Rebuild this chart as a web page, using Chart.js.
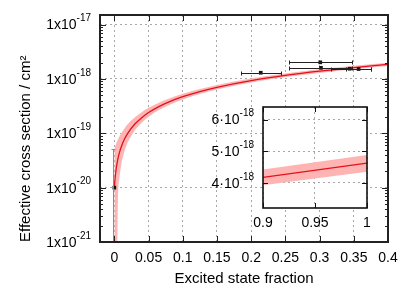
<!DOCTYPE html>
<html><head><meta charset="utf-8">
<script src="https://cdn.jsdelivr.net/npm/chart.js@4.4.1/dist/chart.umd.min.js"></script>
<style>
html,body{margin:0;padding:0;background:#fff;}
#wrap{position:relative;width:415px;height:291px;}
canvas{position:absolute;left:0;top:0;}
</style></head><body>
<div id="wrap"><canvas id="main" width="415" height="291"></canvas><canvas id="inset" width="415" height="291"></canvas></div>
<script>
// ---- data ----
const curveX     = [0, 0.001, 0.002, 0.003, 0.005, 0.0075, 0.01, 0.015, 0.02, 0.03, 0.04, 0.05, 0.065, 0.08, 0.1, 0.125, 0.15, 0.2, 0.25, 0.3, 0.35, 0.4];
const curveMid   = [1.0e-20, 1.46e-20, 1.92e-20, 2.38e-20, 3.31e-20, 4.46e-20, 5.61e-20, 7.92e-20, 1.02e-19, 1.48e-19, 1.94e-19, 2.41e-19, 3.1e-19, 3.79e-19, 4.71e-19, 5.86e-19, 7.02e-19, 9.32e-19, 1.16e-18, 1.39e-18, 1.62e-18, 1.85e-18];
const curveUpper = [5.2e-20, 5.68e-20, 6.17e-20, 6.65e-20, 7.62e-20, 8.82e-20, 1.0e-19, 1.24e-19, 1.49e-19, 1.97e-19, 2.45e-19, 2.94e-19, 3.66e-19, 4.38e-19, 5.35e-19, 6.56e-19, 7.77e-19, 1.02e-18, 1.26e-18, 1.5e-18, 1.74e-18, 1.98e-18];
const curveLower = [1e-23, 1e-23, 1e-23, 1e-23, 4.4e-21, 1.53e-20, 2.62e-20, 4.81e-20, 6.99e-20, 1.14e-19, 1.57e-19, 2.01e-19, 2.67e-19, 3.32e-19, 4.2e-19, 5.29e-19, 6.38e-19, 8.57e-19, 1.08e-18, 1.29e-18, 1.51e-18, 1.73e-18];

const pointX     = [0, 0.214, 0.301, 0.302, 0.344, 0.357];
const pointY     = [1e-20, 1.3e-18, 2.02e-18, 1.6e-18, 1.54e-18, 1.52e-18];
const pointXLow  = [null, 0.185, 0.255, 0.255, 0.316, 0.338];
const pointXHigh = [null, 0.243, 0.348, 0.348, 0.375, 0.375];
const pointYLow  = [1e-23, null, null, null, null, null];
const pointYHigh = [5.2e-20, null, null, null, null, null];

const xTickValues = [0, 0.05, 0.1, 0.15, 0.2, 0.25, 0.3, 0.35, 0.4];
const xTickLabels = ['0', '0.05', '0.1', '0.15', '0.2', '0.25', '0.3', '0.35', '0.4'];
const yTickValues = [1e-21, 1e-20, 1e-19, 1e-18, 1e-17];
const yTickBase   = ['1x10', '1x10', '1x10', '1x10', '1x10'];
const yTickExp    = ['-21', '-20', '-19', '-18', '-17'];

const insetX     = [0.9, 1.0];
const insetMid   = [4.17e-18, 4.62e-18];
const insetUpper = [4.42e-18, 4.88e-18];
const insetLower = [3.92e-18, 4.35e-18];
const insetXTickValues = [0.9, 0.95, 1];
const insetXTickLabels = ['0.9', '0.95', '1'];
const insetYTickValues = [4e-18, 5e-18, 6e-18];
const insetYTickBase   = ['4·10', '5·10', '6·10'];
const insetYTickExp    = ['-18', '-18', '-18'];

// ---- styles ----
const errColors = ['#8c8c8c', '#222', '#222', '#222', '#222', '#222'];
const GRID = '#a8a8a8';
const RED = '#e3101a';
const PINK = '#ffb4b4';
const FONT = "'Liberation Sans', Arial, Helvetica, sans-serif";

Chart.defaults.font.family = FONT;
Chart.defaults.font.size = 14;
Chart.defaults.color = '#000';

function toXY(xs, ys) { return xs.map((v, i) => ({x: v, y: ys[i]})); }
function minorsOf(decades, min, max) {
  const out = [];
  decades.concat([decades[decades.length - 1] * 10]).forEach(d => {
    for (let m = 2; m <= 9; m++) { const v = d * m; if (v > min && v < max) out.push(v); }
  });
  return out;
}

const framePlugin = {
  id: 'frameTicks',
  beforeDraw(chart, args, o) {
    if (!o.fill) return;
    const a = chart.chartArea, ctx = chart.ctx;
    ctx.save(); ctx.fillStyle = '#fff';
    ctx.fillRect(a.left, a.top, a.right - a.left, a.bottom - a.top);
    ctx.restore();
  },
  afterDraw(chart, args, o) {
    const {ctx, chartArea: a, scales} = chart;
    ctx.save();
    ctx.strokeStyle = o.color; ctx.lineWidth = 1;
    ctx.beginPath();
    (o.xMajor || []).forEach(v => {
      const p = Math.round(scales.x.getPixelForValue(v)) + 0.5;
      ctx.moveTo(p, a.bottom); ctx.lineTo(p, a.bottom - o.major);
      ctx.moveTo(p, a.top); ctx.lineTo(p, a.top + o.major);
    });
    (o.yMajor || []).forEach(v => {
      const p = Math.round(scales.y.getPixelForValue(v)) + 0.5;
      ctx.moveTo(a.left, p); ctx.lineTo(a.left + o.major, p);
      ctx.moveTo(a.right, p); ctx.lineTo(a.right - o.major, p);
    });
    (o.yMinor || []).forEach(v => {
      const p = Math.round(scales.y.getPixelForValue(v)) + 0.5;
      ctx.moveTo(a.left, p); ctx.lineTo(a.left + o.minor, p);
      ctx.moveTo(a.right, p); ctx.lineTo(a.right - o.minor, p);
    });
    ctx.stroke();
    ctx.lineWidth = o.width;
    ctx.strokeRect(a.left, a.top, a.right - a.left, a.bottom - a.top);
    // y tick labels with real superscript exponents
    if (o.yLabelValues) {
      ctx.fillStyle = '#000'; ctx.textBaseline = 'middle'; ctx.textAlign = 'right';
      o.yLabelValues.forEach((v, i) => {
        const p = scales.y.getPixelForValue(v);
        const xr = a.left - o.labelGap;
        ctx.font = '10px ' + FONT;
        const ew = ctx.measureText(o.yLabelExp[i]).width;
        ctx.fillText(o.yLabelExp[i], xr, p - 6);
        ctx.font = '14px ' + FONT;
        ctx.fillText(o.yLabelBase[i], xr - ew, p + 1);
      });
    }
    ctx.restore();
  }
};

const errorBarPlugin = {
  id: 'errorBars',
  afterDatasetsDraw(chart, args, o) {
    if (!o.x) return;
    const {ctx, chartArea: a, scales: {x, y}} = chart;
    ctx.save();
    ctx.beginPath(); ctx.rect(a.left, a.top, a.right - a.left, a.bottom - a.top); ctx.clip();
    ctx.lineWidth = 1;
    o.x.forEach((xv, i) => {
      const px = x.getPixelForValue(xv), py = Math.round(y.getPixelForValue(o.y[i])) + 0.5;
      ctx.strokeStyle = o.colors[i];
      ctx.beginPath();
      if (o.xLow[i] != null) {
        const l = Math.round(x.getPixelForValue(o.xLow[i])) + 0.5, h = Math.round(x.getPixelForValue(o.xHigh[i])) + 0.5;
        ctx.moveTo(l, py); ctx.lineTo(h, py);
        ctx.moveTo(l, py - o.cap); ctx.lineTo(l, py + o.cap);
        ctx.moveTo(h, py - o.cap); ctx.lineTo(h, py + o.cap);
      }
      if (o.yLow[i] != null) {
        const pxr = Math.round(px) - 0.5;
        const lo = y.getPixelForValue(o.yLow[i]), hi = Math.round(y.getPixelForValue(o.yHigh[i])) + 0.5;
        ctx.moveTo(pxr, lo); ctx.lineTo(pxr, hi);
        ctx.moveTo(pxr - o.cap, hi); ctx.lineTo(pxr + o.cap, hi);
      }
      ctx.stroke();
    });
    ctx.restore();
  }
};

const common = { responsive: false, animation: false, devicePixelRatio: 1 };

new Chart(document.getElementById('main'), {
  type: 'line',
  data: { datasets: [
    { label: 'points', data: toXY(pointX, pointY), showLine: false, pointStyle: 'rect', pointRadius: 2.6,
      pointBackgroundColor: '#111', pointBorderColor: '#111', pointBorderWidth: 0 },
    { label: 'fit', data: toXY(curveX, curveMid), borderColor: RED, borderWidth: 1.3, pointRadius: 0, fill: false, cubicInterpolationMode: 'monotone' },
    { label: 'upper', data: toXY(curveX, curveUpper), borderWidth: 0, borderColor: PINK, pointRadius: 0, fill: '+1', backgroundColor: PINK, cubicInterpolationMode: 'monotone' },
    { label: 'lower', data: toXY(curveX, curveLower), borderWidth: 0, borderColor: PINK, pointRadius: 0, fill: false, cubicInterpolationMode: 'monotone' }
  ]},
  options: Object.assign({}, common, {
    layout: { padding: { left: 0, top: 15, right: 27, bottom: 0 } },
    plugins: {
      legend: { display: false }, tooltip: { enabled: false },
      frameTicks: { color: '#222', width: 2, major: 6, minor: 3, xMajor: xTickValues, yMajor: yTickValues,
                    yMinor: minorsOf(yTickValues, 1e-21, 1.5e-17),
                    yLabelValues: yTickValues, yLabelBase: yTickBase, yLabelExp: yTickExp, labelGap: 9 },
      errorBars: { x: pointX, y: pointY, xLow: pointXLow, xHigh: pointXHigh, yLow: pointYLow, yHigh: pointYHigh, colors: errColors, cap: 2 }
    },
    scales: {
      x: { type: 'linear', min: -0.021, max: 0.4,
        afterBuildTicks: s => { s.ticks = xTickValues.map(v => ({value: v})); },
        afterFit: s => { s.height = 49; },
        ticks: { callback: (v, i) => xTickLabels[i], autoSkip: false, maxRotation: 0, padding: 8 },
        grid: { color: GRID, drawTicks: false, lineWidth: 1 },
        border: { display: false, dash: [2, 3] },
        title: { display: true, text: 'Excited state fraction', font: { size: 15 }, padding: { top: 0, bottom: 3 } } },
      y: { type: 'logarithmic', min: 1e-21, max: 1.5e-17,
        afterBuildTicks: s => { s.ticks = yTickValues.map(v => ({value: v})); },
        afterFit: s => { s.width = 100; },
        ticks: { display: false },
        grid: { color: GRID, drawTicks: false, lineWidth: 1 },
        border: { display: false, dash: [2, 3] },
        title: { display: true, text: 'Effective cross section / cm²', align: 'start', font: { size: 15 }, padding: { top: 17, bottom: 0 } } }
    }
  }),
  plugins: [framePlugin, errorBarPlugin]
});

new Chart(document.getElementById('inset'), {
  type: 'line',
  data: { datasets: [
    { label: 'fit', data: toXY(insetX, insetMid), borderColor: RED, borderWidth: 1.2, pointRadius: 0, fill: false },
    { label: 'upper', data: toXY(insetX, insetUpper), borderWidth: 0, borderColor: PINK, pointRadius: 0, fill: '+1', backgroundColor: PINK },
    { label: 'lower', data: toXY(insetX, insetLower), borderWidth: 0, borderColor: PINK, pointRadius: 0, fill: false }
  ]},
  options: Object.assign({}, common, {
    layout: { padding: { left: 0, top: 107, right: 48, bottom: 0 } },
    plugins: {
      legend: { display: false }, tooltip: { enabled: false },
      frameTicks: { fill: true, color: '#111', width: 1.6, major: 5, minor: 0, xMajor: insetXTickValues, yMajor: insetYTickValues,
                    yLabelValues: insetYTickValues, yLabelBase: insetYTickBase, yLabelExp: insetYTickExp, labelGap: 9 },
      errorBars: {}
    },
    scales: {
      x: { type: 'linear', min: 0.9, max: 1.0,
        afterBuildTicks: s => { s.ticks = insetXTickValues.map(v => ({value: v})); },
        afterFit: s => { s.height = 83; },
        ticks: { callback: (v, i) => insetXTickLabels[i], autoSkip: false, maxRotation: 0, padding: 7 },
        grid: { color: GRID, drawTicks: false, lineWidth: 1 },
        border: { display: false, dash: [2, 3] } },
      y: { type: 'linear', min: 3.2e-18, max: 6.4e-18,
        afterBuildTicks: s => { s.ticks = insetYTickValues.map(v => ({value: v})); },
        afterFit: s => { s.width = 263; },
        ticks: { display: false },
        grid: { color: GRID, drawTicks: false, lineWidth: 1 },
        border: { display: false, dash: [2, 3] } }
    }
  }),
  plugins: [framePlugin, errorBarPlugin]
});
</script>
</body></html>
